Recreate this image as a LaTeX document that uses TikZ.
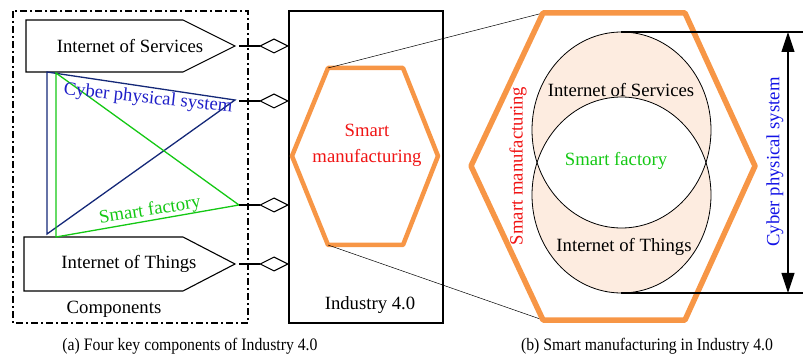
\documentclass[tikz,border=0pt]{standalone}
\usepackage{fontspec}
\setmainfont{Liberation Serif}
\usetikzlibrary{arrows.meta}
\definecolor{hexorange}{RGB}{247,150,70}
\definecolor{peach}{RGB}{253,236,224}
\definecolor{navyline}{RGB}{20,40,120}
\definecolor{cpsblue}{RGB}{30,30,200}
\definecolor{cpsblue2}{RGB}{20,20,230}
\definecolor{sfgreen}{RGB}{20,200,20}
\definecolor{smred}{RGB}{240,20,20}
\begin{document}
\begin{tikzpicture}[x=1pt,y=-1pt,
  lbl/.style={inner sep=0pt,font=\fontsize{18.7}{20}\selectfont},
  captext/.style={inner sep=0pt,xscale=0.9,transform shape,font=\fontsize{17.5}{19}\selectfont},
  penta/.style={draw=black,line width=1.1pt,fill=white},
  conn/.style={draw=black,line width=1.1pt,-{Diamond[open,length=30pt,width=15pt,line width=1.1pt]}},
  hexa/.style={draw=hexorange,line width=4.5pt,line join=round},
  thinl/.style={draw=black,line width=0.5pt}]
\useasboundingbox (0,0) rectangle (809,358);
% components box
\draw[line width=2pt,dash pattern=on 7pt off 3pt on 2pt off 3pt] (13,11) rectangle (248,323);
% pentagons
\draw[penta] (26,20) -- (183,20) -- (235,46) -- (183,72) -- (26,72) -- cycle;
\coordinate (iosTip) at (235,46);
\node[lbl] (ios) at (130,46) {Internet of Services};
\draw[penta] (24,237) -- (183,237) -- (235,264) -- (183,291) -- (24,291) -- cycle;
\coordinate (iotTip) at (235,264);
\node[lbl] (iot) at (129,264) {Internet of Things};
% CPS triangle
\coordinate (cA) at (47,72);
\coordinate (cB) at (235,100);
\coordinate (cC) at (47,234);
\draw[navyline,line width=1.3pt,line join=miter] (cA) -- (cB) -- (cC) -- cycle;
% smart factory triangle
\coordinate (gA) at (56,73);
\coordinate (gB) at (239,205);
\coordinate (gC) at (56,237);
\draw[sfgreen,line width=1.3pt] (gA) -- (gB) -- (gC) -- cycle;
\node[lbl,text=cpsblue,rotate=-6] (cpsL) at (148,99) {Cyber physical system};
\node[lbl,text=sfgreen,rotate=9] (sfL) at (150,211) {Smart factory};
\node[lbl] (comp) at (114,309) {Components};
% industry box
\draw[line width=2.5pt] (289,11) rectangle (443,323);
\node[lbl] (ind) at (370,305) {Industry 4.0};
\coordinate (b1) at (289,46);
\coordinate (b2) at (289,101);
\coordinate (b3) at (289,205);
\coordinate (b4) at (289,264);
\coordinate (s2) at (235,101);
\draw[conn,shorten <=4pt] (iosTip) -- (b1);
\draw[conn,shorten <=4pt] (s2) -- (b2);
\draw[conn] (gB) -- (b3);
\draw[conn,shorten <=4pt] (iotTip) -- (b4);
% small hexagon
\coordinate (h1) at (328,68);
\coordinate (h2) at (403,68);
\coordinate (h3) at (438,156);
\coordinate (h4) at (403,245);
\coordinate (h5) at (328,245);
\coordinate (h6) at (292,156);
\draw[hexa] (h1) -- (h2) -- (h3) -- (h4) -- (h5) -- (h6) -- cycle;
\node[lbl,text=smred,align=center] (sm) at (367,145) {Smart\\[6pt]manufacturing};
% big hexagon
\coordinate (H1) at (543,13);
\coordinate (H2) at (685,13);
\coordinate (H3) at (755,166);
\coordinate (H4) at (685,320);
\coordinate (H5) at (543,320);
\coordinate (H6) at (471,166);
\draw[thinl] (h1) -- (H1);
\draw[thinl] (h5) -- (H5);
\fill[peach,even odd rule] (621.5,130) ellipse [x radius=89.5,y radius=98] (621.5,195) ellipse [x radius=89.5,y radius=98];
\draw[line width=0.8pt] (621.5,130) ellipse [x radius=89.5,y radius=98];
\draw[line width=0.8pt] (621.5,195) ellipse [x radius=89.5,y radius=98];
\draw[hexa,line width=5.5pt] (H1) -- (H2) -- (H3) -- (H4) -- (H5) -- (H6) -- cycle;
\node[lbl] (iosR) at (621,90) {Internet of Services};
\node[lbl,text=sfgreen] (sfR) at (616,161) {Smart factory};
\node[lbl] (iotR) at (624,247) {Internet of Things};
\node[lbl,text=smred,rotate=90] (smR) at (518,166) {Smart manufacturing};
% dimension
\coordinate (t0) at (621,32);
\coordinate (t1) at (803,32);
\coordinate (u0) at (621,293);
\coordinate (u1) at (803,293);
\draw[line width=1.1pt] (t0) -- (t1);
\draw[line width=1.1pt] (u0) -- (u1);
\coordinate (a0) at (788,32);
\coordinate (a1) at (788,293);
\draw[line width=1.1pt,{Triangle[length=20pt,width=13pt]}-{Triangle[length=20pt,width=13pt]}] (a0) -- (a1);
\node[lbl,text=cpsblue2,rotate=90] (cpsR) at (775,162) {Cyber physical system};
% captions
\node[captext] (capA) at (190,346) {(a) Four key components of Industry 4.0};
\node[captext] (capB) at (647,346) {(b) Smart manufacturing in Industry 4.0};
\end{tikzpicture}
\end{document}
